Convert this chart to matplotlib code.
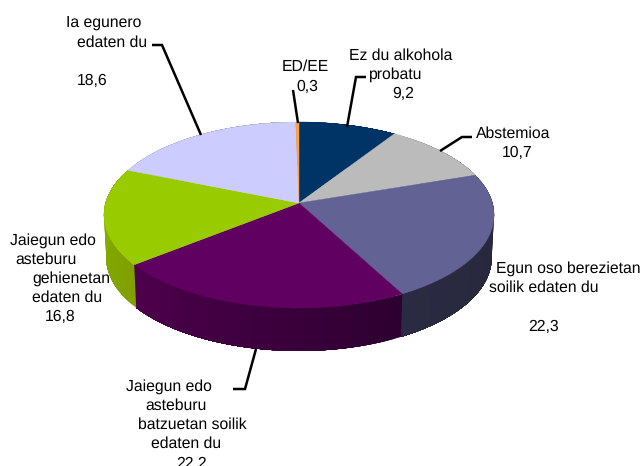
import numpy as np
import matplotlib
matplotlib.use("Agg")
import matplotlib.pyplot as plt

plt.rcParams["font.family"] = ["Liberation Sans", "DejaVu Sans"]
plt.rcParams["text.hinting"] = "no_hinting"

# Slices, clockwise from 12 o'clock
categories = ["Ez du alkohola probatu", "Abstemioa", "Egun oso berezietan soilik edaten du",
              "Jaiegun edo asteburu batzuetan soilik edaten du",
              "Jaiegun edo asteburu gehienetan edaten du", "Ia egunero edaten du", "ED/EE"]
values = [9.2, 10.7, 22.3, 22.2, 16.8, 18.6, 0.3]
top_colors = ["#003366", "#BBBBBB", "#626294", "#600060", "#99CC00", "#CCCCFF", "#F9A24A"]
side_left = ["#002244", "#808080", "#2A2A42", "#4E004C", "#8DB400", "#9090B0", "#B07030"]
side_right = ["#002244", "#808080", "#262638", "#2C0030", "#7FA000", "#9090B0", "#B07030"]

# Label lines: text, left x, centre y (pixels)
label_lines = [
    ("Ia egunero", 66, 21), ("edaten du", 77, 41), ("18,6", 77, 79),
    ("ED/EE", 282, 65), ("0,3", 296, 85),
    ("Ez du alkohola", 349, 54), ("probatu", 369, 73), ("9,2", 392, 92),
    ("Abstemioa", 476, 132), ("10,7", 502, 151),
    ("Egun oso berezietan", 496, 267), ("soilik edaten du", 489, 286), ("22,3", 528, 325),
    ("Jaiegun edo", 126, 385), ("asteburu", 145, 404), ("batzuetan soilik", 138, 423),
    ("edaten du", 151, 442), ("22,2", 176, 462),
    ("Jaiegun edo", 10, 239), ("asteburu", 15, 258), ("gehienetan", 32, 277),
    ("edaten du", 32, 296), ("16,8", 45, 315),
]

leaders = [
    ([152, 162, 201], [45, 45, 135]),
    ([293, 298], [90, 123]),
    ([366, 356, 347], [77, 77, 127]),
    ([472, 462, 440], [137, 137, 151]),
    ([233, 245, 256], [389, 389, 349]),
]

# Pie geometry in pixels (tilted circle seen in perspective)
cx, cy = 299, 203
persp = 0.129
ax_x = 193.4
ax_y = 91.45
depth = 43
shrink = 0.988


def project(theta):
    u, v = np.sin(theta), np.cos(theta)
    w = 1 + persp * v
    return ax_x * u / w, -ax_y * v / w


fig = plt.figure(figsize=(6.44, 4.66), dpi=100)
ax = fig.add_axes([0, 0, 1, 1])
ax.set_xlim(0, 644)
ax.set_ylim(466, 0)
ax.axis("off")

edges = np.cumsum([0] + values) / sum(values) * 2 * np.pi

# side wall first; each band runs to the end of its slice so the next one
# paints over it and no seams show between the shades
for i in range(len(values)):
    n = max(int((edges[i + 1] - edges[i]) * 30), 2)
    t = np.linspace(edges[i], edges[i + 1], n * 4 + 1)
    x, y = project(t)
    c0 = np.array(matplotlib.colors.to_rgb(side_left[i]))
    c1 = np.array(matplotlib.colors.to_rgb(side_right[i]))
    for j in range(n):
        c = c1 + (c0 - c1) * (j + 0.5) / n
        xs = x[j * 4:]
        ys = y[j * 4:]
        qx = np.r_[cx + xs, cx + xs[::-1] * shrink]
        qy = np.r_[cy + ys, cy + ys[::-1] + depth]
        ax.fill(qx, qy, color=c, lw=0)

# top face
for i in range(len(values)):
    n = max(int((edges[i + 1] - edges[i]) * 60), 2)
    t = np.linspace(edges[i], edges[i + 1], n + 1)
    x, y = project(t)
    ax.fill(np.r_[cx, cx + x], np.r_[cy, cy + y], color=top_colors[i], lw=0.3)

for lx, ly in leaders:
    ax.plot(lx, ly, color="black", lw=1.8, solid_joinstyle="miter", solid_capstyle="butt")

for text, x, y in label_lines:
    ax.text(x, y, text, fontsize=11.3, color="black", ha="left", va="center_baseline")

fig.savefig("out.png", dpi=100)
